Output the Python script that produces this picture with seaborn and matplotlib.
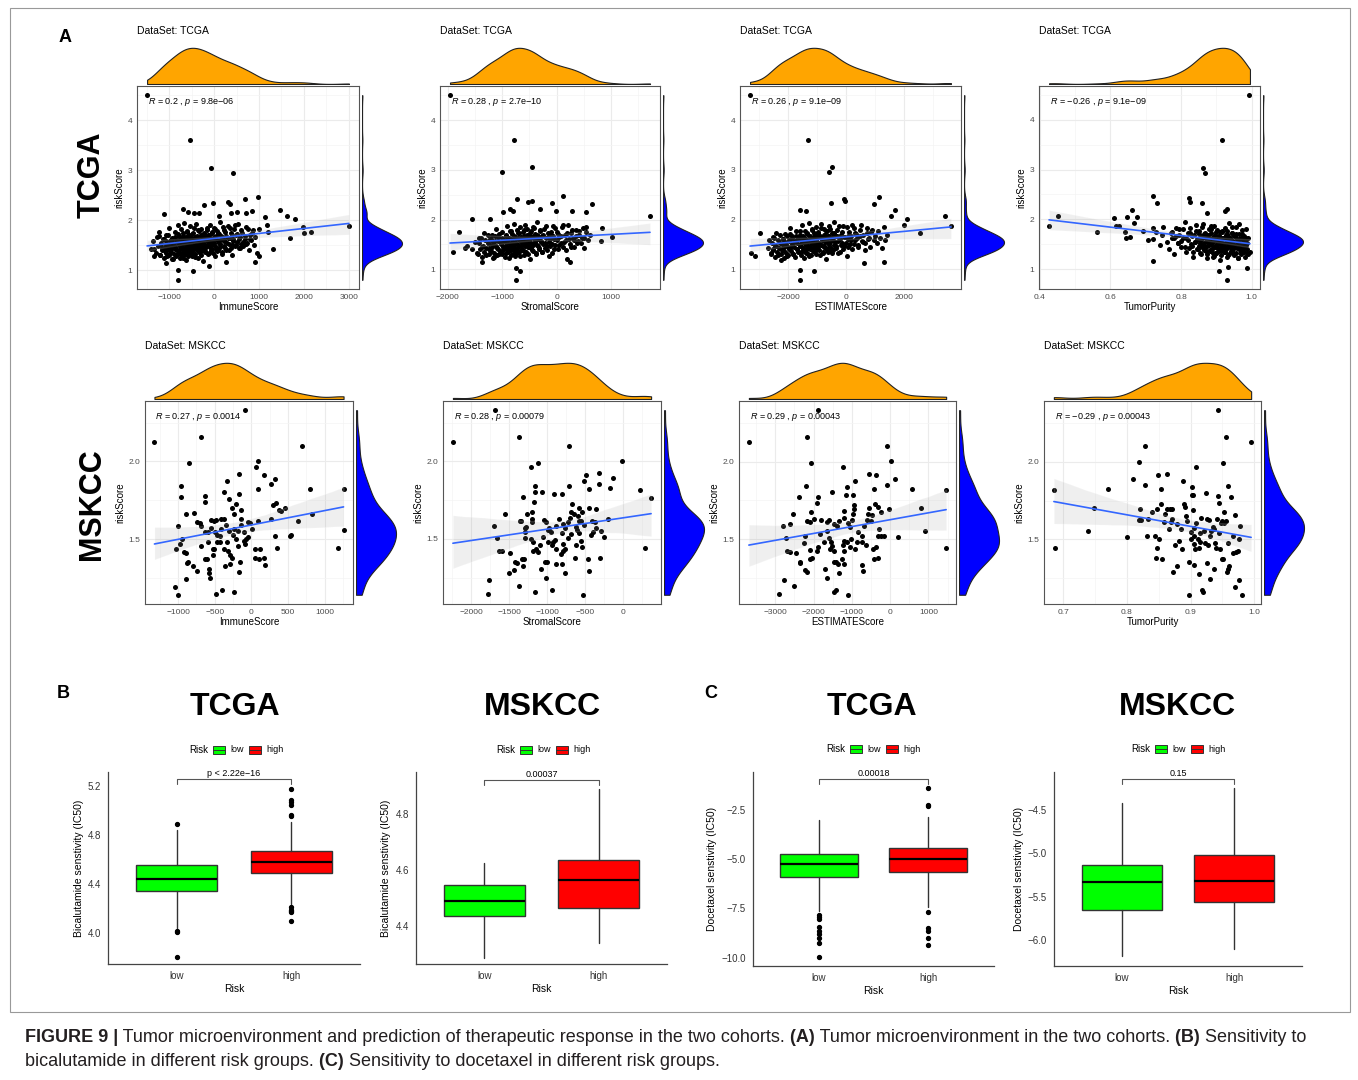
import pandas as pd
import seaborn as sns

import matplotlib
matplotlib.use('Agg')
import matplotlib.pyplot as plt
from matplotlib.collections import PolyCollection
from matplotlib.patches import Rectangle
from matplotlib.lines import Line2D
from matplotlib.ticker import FixedLocator, AutoMinorLocator

# ---------------- data ----------------
# panel A, TCGA row: (score, riskScore); sparse points first, then the cloud
tcga_immune = [
    (-1490, 4.5), (-530, 3.6), (-60, 3.05), (430, 2.95), (975, 2.47), (690, 2.42), (320, 2.37), (350, 2.32),
    (-15, 2.34), (-235, 2.31), (-700, 2.22), (-440, 2.15), (-590, 2.17), (-330, 2.15), (-1120, 2.13), (1460, 2.2),
    (1625, 2.09), (1790, 2.02), (1980, 1.87), (1990, 1.75), (2150, 1.77), (3000, 1.89), (1700, 1.65), (1310, 1.43),
    (1140, 2.06), (1180, 1.91), (1200, 1.77), (1000, 1.82), (850, 2.18), (700, 2.14), (110, 2.09), (370, 2.14),
    (520, 2.17), (-800, 0.81), (-800, 1.0), (-460, 0.99), (-110, 1.09), (260, 1.17), (920, 1.17), (1000, 1.29),
    (-1070, 1.15), (-1330, 1.29), (-1340, 1.43), (-1220, 1.69),
    (-1400, 1.42), (-1350, 1.58), (-1300, 1.35), (-1280, 1.66), (-1250, 1.48), (-1220, 1.77), (-1200, 1.30),
    (-1180, 1.55), (-1150, 1.44), (-1120, 1.62), (-1100, 1.38),
    (-1080, 1.52), (-1060, 1.71), (-1040, 1.28), (-1020, 1.46), (-1000, 1.84), (-980, 1.58), (-960, 1.36),
    (-940, 1.65), (-920, 1.22), (-900, 1.50), (-880, 1.77), (-860, 1.43), (-840, 1.60), (-820, 1.32), (-800, 1.90),
    (-790, 1.55), (-780, 1.40), (-770, 1.68), (-760, 1.25), (-750, 1.48), (-740, 1.82), (-730, 1.58), (-720, 1.35),
    (-710, 1.62), (-700, 1.45), (-690, 1.74), (-680, 1.52), (-670, 1.30), (-660, 1.95), (-650, 1.57), (-640, 1.42),
    (-630, 1.66), (-620, 1.20), (-610, 1.50), (-600, 1.78), (-590, 1.38), (-580, 1.61), (-570, 1.47), (-560, 1.70),
    (-550, 1.33), (-540, 1.56), (-530, 1.88), (-520, 1.44), (-510, 1.64), (-500, 1.28),
    (-490, 1.53), (-480, 1.72), (-470, 1.40), (-460, 1.60), (-450, 1.85), (-440, 1.47), (-430, 1.66), (-420, 1.32),
    (-410, 1.57), (-400, 1.92), (-390, 1.43), (-380, 1.69), (-370, 1.51), (-360, 1.24), (-350, 1.62), (-340, 1.78),
    (-330, 1.45), (-320, 1.58), (-310, 1.36), (-300, 1.70), (-290, 1.52), (-280, 1.83), (-270, 1.41), (-260, 1.63),
    (-250, 1.18), (-240, 1.55), (-230, 1.75), (-220, 1.48), (-210, 1.66), (-200, 1.37),
    (-190, 1.61), (-175, 1.46), (-160, 1.80), (-145, 1.53), (-130, 1.70), (-115, 1.34), (-100, 1.64), (-85, 1.90),
    (-70, 1.50), (-55, 1.74), (-40, 1.42), (-25, 1.60), (-10, 1.85), (5, 1.55), (20, 1.29), (35, 1.68), (50, 1.47),
    (65, 1.78), (80, 1.58), (95, 1.40), (110, 1.72), (125, 1.52), (140, 1.96), (155, 1.63), (170, 1.36), (185, 1.67),
    (210, 1.58), (230, 1.80), (250, 1.45), (270, 1.69), (290, 1.55), (310, 1.88), (330, 1.40), (350, 1.64),
    (370, 1.75), (390, 1.50), (410, 1.30), (430, 1.62), (450, 1.83), (470, 1.48), (490, 1.70), (510, 1.57),
    (530, 1.92), (550, 1.44), (570, 1.66), (590, 1.52),
    (620, 1.74), (650, 1.48), (680, 1.62), (710, 1.86), (740, 1.55), (770, 1.40), (800, 1.70), (830, 1.60),
    (860, 1.80), (890, 1.50), (920, 1.67), (960, 1.35),
]
tcga_immune_dense = [
    (-1200, 1.30), (-1180, 1.52), (-1160, 1.40), (-1140, 1.62), (-1120, 1.25), (-1100, 1.47), (-1080, 1.35),
    (-1060, 1.58), (-1040, 1.42), (-1020, 1.70), (-1000, 1.30), (-985, 1.50), (-970, 1.38), (-955, 1.61),
    (-940, 1.44), (-925, 1.22), (-910, 1.55), (-895, 1.33), (-880, 1.66), (-865, 1.46), (-850, 1.28), (-835, 1.57),
    (-820, 1.41), (-805, 1.72), (-790, 1.36), (-775, 1.50), (-760, 1.62), (-745, 1.31), (-730, 1.45), (-715, 1.56),
    (-700, 1.24), (-685, 1.68), (-670, 1.40), (-655, 1.52), (-640, 1.34), (-625, 1.63), (-610, 1.46), (-595, 1.77),
    (-580, 1.29), (-565, 1.55), (-550, 1.43), (-535, 1.66), (-520, 1.37), (-505, 1.50), (-490, 1.60), (-475, 1.32),
    (-460, 1.74), (-445, 1.47), (-430, 1.56), (-415, 1.27), (-400, 1.64), (-385, 1.41), (-370, 1.53), (-355, 1.80),
    (-340, 1.36), (-325, 1.59), (-310, 1.48), (-295, 1.69), (-280, 1.31), (-265, 1.57), (-250, 1.44), (-235, 1.73),
    (-220, 1.52), (-205, 1.38), (-190, 1.65), (-175, 1.49), (-160, 1.84), (-145, 1.58), (-130, 1.33), (-115, 1.70),
    (-100, 1.46), (-85, 1.61), (-70, 1.40), (-55, 1.77), (-40, 1.54), (-25, 1.35), (-10, 1.66), (5, 1.50),
    (20, 1.82), (35, 1.43), (50, 1.62), (70, 1.38), (90, 1.74), (110, 1.55), (130, 1.46), (150, 1.68), (170, 1.32),
    (190, 1.87), (210, 1.60), (230, 1.49), (250, 1.76), (275, 1.41), (300, 1.64), (325, 1.53), (350, 1.85),
    (375, 1.45), (400, 1.70), (430, 1.58), (460, 1.90), (490, 1.50), (520, 1.73), (550, 1.62), (580, 1.44),
    (610, 1.80), (640, 1.57), (680, 1.69), (720, 1.52), (760, 1.83), (800, 1.63), (850, 1.75),
]
tcga_stromal = [
    (-1960, 4.5), (-780, 3.6), (-445, 3.05), (-1000, 2.95), (125, 2.47), (650, 2.32), (1720, 2.08), (-720, 2.42),
    (-525, 2.35), (-455, 2.37), (-90, 2.33), (-860, 2.22), (-800, 2.17), (-1560, 2.02), (-1230, 2.02), (-1790, 1.75),
    (-1910, 1.34), (-1680, 1.43), (-1650, 1.46), (820, 1.57), (830, 1.84), (1020, 1.64), (-740, 0.79), (-740, 1.02),
    (-670, 0.97), (-1370, 1.15), (250, 1.15), (200, 1.21), (540, 2.15), (290, 2.17), (-10, 2.17), (-310, 2.22),
    (-980, 2.15),
    (-1550, 1.40), (-1500, 1.55), (-1460, 1.32), (-1420, 1.63), (-1380, 1.45), (-1340, 1.74), (-1300, 1.28),
    (-1270, 1.52), (-1250, 1.41),
    (-1230, 1.60), (-1210, 1.36), (-1190, 1.70), (-1170, 1.48), (-1150, 1.25), (-1130, 1.57), (-1110, 1.82),
    (-1090, 1.43), (-1070, 1.64), (-1050, 1.30), (-1030, 1.52), (-1010, 1.76), (-990, 1.39), (-970, 1.58),
    (-945, 1.47), (-935, 1.69), (-925, 1.33), (-915, 1.56), (-905, 1.88), (-895, 1.42), (-885, 1.62), (-875, 1.22),
    (-865, 1.51), (-855, 1.77), (-845, 1.38), (-835, 1.60), (-825, 1.46), (-815, 1.71), (-805, 1.30), (-795, 1.55),
    (-785, 1.92), (-775, 1.44), (-765, 1.65), (-755, 1.27), (-745, 1.53), (-735, 1.80), (-725, 1.41), (-715, 1.62),
    (-705, 1.49), (-695, 1.73), (-685, 1.35), (-675, 1.58), (-665, 1.85), (-655, 1.46),
    (-645, 1.61), (-635, 1.39), (-625, 1.75), (-615, 1.52), (-605, 1.28), (-595, 1.66), (-585, 1.90), (-575, 1.47),
    (-565, 1.63), (-555, 1.34), (-545, 1.57), (-535, 1.81), (-525, 1.44), (-515, 1.69), (-505, 1.53), (-495, 1.20),
    (-485, 1.60), (-475, 1.77), (-465, 1.42), (-455, 1.65), (-445, 1.50), (-435, 1.86), (-425, 1.37), (-415, 1.62),
    (-405, 1.55), (-395, 1.72), (-385, 1.31), (-375, 1.58), (-365, 1.95), (-355, 1.48),
    (-340, 1.66), (-320, 1.43), (-300, 1.79), (-280, 1.57), (-260, 1.35), (-240, 1.70), (-220, 1.52), (-200, 1.88),
    (-180, 1.46), (-160, 1.64), (-140, 1.27), (-120, 1.60), (-100, 1.76), (-80, 1.50), (-60, 1.68), (-40, 1.40),
    (-20, 1.83), (0, 1.58),
    (20, 1.72), (50, 1.48), (80, 1.66), (110, 1.90), (140, 1.55), (170, 1.38), (200, 1.74), (230, 1.61), (260, 1.45),
    (290, 1.80), (320, 1.59), (350, 1.68),
    (380, 1.52), (420, 1.77), (460, 1.63), (500, 1.42), (540, 1.85), (580, 1.58), (620, 1.70),
]
tcga_stromal_dense = [
    (-1450, 1.30), (-1430, 1.52), (-1410, 1.40), (-1390, 1.62), (-1370, 1.25), (-1350, 1.47), (-1330, 1.35),
    (-1310, 1.58), (-1290, 1.42), (-1270, 1.70), (-1250, 1.30), (-1235, 1.50), (-1220, 1.38), (-1205, 1.61),
    (-1190, 1.44), (-1175, 1.22), (-1160, 1.55), (-1145, 1.33), (-1130, 1.66), (-1115, 1.46), (-1100, 1.28),
    (-1085, 1.57), (-1070, 1.41), (-1055, 1.72), (-1040, 1.36), (-1025, 1.50), (-1010, 1.62), (-995, 1.31),
    (-980, 1.45), (-965, 1.56), (-950, 1.24), (-935, 1.68), (-920, 1.40), (-905, 1.52), (-890, 1.34), (-875, 1.63),
    (-860, 1.46), (-845, 1.77), (-830, 1.29), (-815, 1.55), (-800, 1.43), (-785, 1.66), (-770, 1.37), (-755, 1.50),
    (-740, 1.60), (-725, 1.32), (-710, 1.74), (-695, 1.47), (-680, 1.56), (-665, 1.27), (-650, 1.64), (-635, 1.41),
    (-620, 1.53), (-605, 1.80), (-590, 1.36), (-575, 1.59), (-560, 1.48), (-545, 1.69), (-530, 1.31), (-515, 1.57),
    (-500, 1.44), (-485, 1.73), (-470, 1.52), (-455, 1.38), (-440, 1.65), (-425, 1.49), (-410, 1.84), (-395, 1.58),
    (-380, 1.33), (-365, 1.70), (-350, 1.46), (-335, 1.61), (-320, 1.40), (-305, 1.77), (-290, 1.54), (-275, 1.35),
    (-260, 1.66), (-245, 1.50), (-230, 1.82), (-215, 1.43), (-200, 1.62), (-180, 1.38), (-160, 1.74), (-140, 1.55),
    (-120, 1.46), (-100, 1.68), (-80, 1.32), (-60, 1.87), (-40, 1.60), (-20, 1.49), (0, 1.76), (25, 1.41),
    (50, 1.64), (75, 1.53), (100, 1.85), (125, 1.45), (150, 1.70), (180, 1.58), (210, 1.90), (240, 1.50),
    (270, 1.73), (300, 1.62), (330, 1.44), (360, 1.80), (390, 1.57), (420, 1.69), (450, 1.52), (480, 1.83),
    (510, 1.63), (550, 1.75),
]
tcga_estimate = [
    (-3310, 4.5), (-1310, 3.6), (-480, 3.05), (-570, 2.95), (1140, 2.45), (970, 2.32), (-60, 2.42), (-25, 2.37),
    (-515, 2.34), (-1570, 2.2), (-1370, 2.17), (1690, 2.19), (1540, 2.07), (2090, 2.02), (2000, 1.89), (2540, 1.73),
    (3430, 2.07), (3620, 1.87), (-2970, 1.74), (-3290, 1.33), (-3140, 1.27), (-2510, 1.39), (-1570, 0.79),
    (-1570, 0.99), (-1120, 0.97), (630, 1.12), (1310, 1.15), (-2230, 1.19),
    (-2700, 1.42), (-2640, 1.58), (-2580, 1.33), (-2520, 1.65), (-2460, 1.47), (-2400, 1.74), (-2340, 1.29),
    (-2280, 1.53), (-2220, 1.40),
    (-2180, 1.61), (-2140, 1.36), (-2100, 1.72), (-2060, 1.49), (-2020, 1.26), (-1980, 1.58), (-1940, 1.84),
    (-1900, 1.44), (-1860, 1.66), (-1820, 1.31), (-1780, 1.54), (-1740, 1.78), (-1700, 1.40), (-1660, 1.60),
    (-1590, 1.48), (-1570, 1.70), (-1550, 1.34), (-1530, 1.57), (-1510, 1.89), (-1490, 1.43), (-1470, 1.63),
    (-1450, 1.23), (-1430, 1.52), (-1410, 1.78), (-1390, 1.39), (-1370, 1.61), (-1350, 1.47), (-1330, 1.72),
    (-1310, 1.31), (-1290, 1.56), (-1270, 1.93), (-1250, 1.45), (-1230, 1.66), (-1210, 1.28), (-1190, 1.54),
    (-1170, 1.81), (-1150, 1.42), (-1130, 1.63), (-1110, 1.50), (-1090, 1.74), (-1070, 1.36), (-1050, 1.59),
    (-1030, 1.86), (-1010, 1.47),
    (-990, 1.62), (-970, 1.40), (-950, 1.76), (-930, 1.53), (-910, 1.29), (-890, 1.67), (-870, 1.91), (-850, 1.48),
    (-830, 1.64), (-810, 1.35), (-790, 1.58), (-770, 1.82), (-750, 1.45), (-730, 1.70), (-710, 1.54), (-690, 1.21),
    (-670, 1.61), (-650, 1.78), (-630, 1.43), (-610, 1.66), (-590, 1.51), (-570, 1.87), (-550, 1.38), (-530, 1.63),
    (-510, 1.56), (-490, 1.73), (-470, 1.32), (-450, 1.59), (-430, 1.96), (-410, 1.49),
    (-380, 1.66), (-340, 1.43), (-300, 1.79), (-260, 1.57), (-220, 1.35), (-180, 1.70), (-140, 1.52), (-100, 1.88),
    (-60, 1.46), (-20, 1.64), (20, 1.27), (60, 1.60), (100, 1.76), (140, 1.50), (180, 1.68), (220, 1.40),
    (260, 1.83), (300, 1.58),
    (350, 1.72), (410, 1.48), (470, 1.66), (530, 1.90), (590, 1.55), (650, 1.38), (710, 1.74), (770, 1.61),
    (830, 1.45), (890, 1.80), (950, 1.59), (1000, 1.68),
    (1060, 1.52), (1120, 1.77), (1180, 1.63), (1240, 1.42), (1300, 1.85), (1350, 1.58), (1400, 1.70),
]
tcga_estimate_dense = [
    (-2600, 1.30), (-2565, 1.52), (-2530, 1.40), (-2495, 1.62), (-2460, 1.25), (-2425, 1.47), (-2390, 1.35),
    (-2355, 1.58), (-2320, 1.42), (-2285, 1.70), (-2250, 1.30), (-2225, 1.50), (-2200, 1.38), (-2175, 1.61),
    (-2150, 1.44), (-2125, 1.22), (-2100, 1.55), (-2075, 1.33), (-2050, 1.66), (-2025, 1.46), (-2000, 1.28),
    (-1975, 1.57), (-1950, 1.41), (-1925, 1.72), (-1900, 1.36), (-1875, 1.50), (-1850, 1.62), (-1825, 1.31),
    (-1800, 1.45), (-1775, 1.56), (-1750, 1.24), (-1725, 1.68), (-1700, 1.40), (-1675, 1.52), (-1650, 1.34),
    (-1625, 1.63), (-1600, 1.46), (-1575, 1.77), (-1550, 1.29), (-1525, 1.55), (-1500, 1.43), (-1475, 1.66),
    (-1450, 1.37), (-1425, 1.50), (-1400, 1.60), (-1375, 1.32), (-1350, 1.74), (-1325, 1.47), (-1300, 1.56),
    (-1275, 1.27), (-1250, 1.64), (-1225, 1.41), (-1200, 1.53), (-1175, 1.80), (-1150, 1.36), (-1125, 1.59),
    (-1100, 1.48), (-1075, 1.69), (-1050, 1.31), (-1025, 1.57), (-1000, 1.44), (-975, 1.73), (-950, 1.52),
    (-925, 1.38), (-900, 1.65), (-875, 1.49), (-850, 1.84), (-825, 1.58), (-800, 1.33), (-775, 1.70), (-750, 1.46),
    (-725, 1.61), (-700, 1.40), (-675, 1.77), (-650, 1.54), (-625, 1.35), (-600, 1.66), (-575, 1.50), (-550, 1.82),
    (-525, 1.43), (-500, 1.62), (-465, 1.38), (-430, 1.74), (-395, 1.55), (-360, 1.46), (-325, 1.68), (-290, 1.32),
    (-255, 1.87), (-220, 1.60), (-185, 1.49), (-150, 1.76), (-105, 1.41), (-60, 1.64), (-15, 1.53), (30, 1.85),
    (75, 1.45), (120, 1.70), (170, 1.58), (220, 1.90), (270, 1.50), (320, 1.73), (370, 1.62), (420, 1.44),
    (480, 1.80), (540, 1.57), (600, 1.69), (660, 1.52), (720, 1.83), (790, 1.63), (860, 1.75),
]
tcga_purity = [
    (0.993, 4.49), (0.915, 3.59), (0.861, 3.04), (0.869, 2.94), (0.426, 1.87), (0.452, 2.07), (0.562, 1.74),
    (0.611, 2.02), (0.616, 1.87), (0.625, 1.87), (0.641, 1.75), (0.648, 2.05), (0.644, 1.63), (0.655, 1.65),
    (0.660, 2.19), (0.667, 1.93), (0.676, 2.05), (0.691, 1.77), (0.705, 1.59), (0.719, 2.47), (0.721, 1.17),
    (0.733, 2.32), (0.721, 1.83), (0.930, 0.79), (0.906, 0.97), (0.934, 1.05), (0.986, 1.03), (0.995, 1.35),
    (0.822, 2.42), (0.826, 2.35), (0.859, 2.33), (0.873, 2.13), (0.930, 2.21), (0.925, 2.17),
    (0.72, 1.60), (0.73, 1.75), (0.74, 1.48), (0.745, 1.68), (0.75, 1.85), (0.76, 1.55), (0.765, 1.40), (0.77, 1.72),
    (0.775, 1.62), (0.78, 1.30),
    (0.785, 1.66), (0.79, 1.52), (0.795, 1.80), (0.80, 1.44), (0.805, 1.63), (0.81, 1.95), (0.815, 1.35),
    (0.82, 1.58), (0.825, 1.73), (0.83, 1.47), (0.833, 1.25), (0.836, 1.68), (0.84, 1.54), (0.843, 1.88),
    (0.845, 1.61), (0.848, 1.40), (0.851, 1.76), (0.854, 1.52), (0.857, 1.30), (0.86, 1.66), (0.863, 1.90),
    (0.866, 1.46), (0.869, 1.62), (0.872, 1.22), (0.875, 1.55), (0.878, 1.80), (0.852, 1.58), (0.858, 1.44),
    (0.864, 1.70), (0.871, 1.36), (0.876, 1.64), (0.879, 1.50),
    (0.881, 1.57), (0.883, 1.38), (0.885, 1.72), (0.887, 1.48), (0.889, 1.25), (0.891, 1.63), (0.893, 1.86),
    (0.895, 1.44), (0.897, 1.60), (0.899, 1.32), (0.901, 1.54), (0.903, 1.78), (0.905, 1.41), (0.907, 1.66),
    (0.909, 1.51), (0.911, 1.18), (0.913, 1.58), (0.915, 1.75), (0.917, 1.39), (0.919, 1.62), (0.921, 1.47),
    (0.923, 1.83), (0.925, 1.35), (0.927, 1.60), (0.929, 1.53), (0.931, 1.70), (0.933, 1.28), (0.935, 1.56),
    (0.937, 1.92), (0.939, 1.45),
    (0.941, 1.59), (0.943, 1.37), (0.945, 1.73), (0.947, 1.50), (0.949, 1.30), (0.951, 1.66), (0.953, 1.46),
    (0.955, 1.84), (0.957, 1.42), (0.959, 1.60), (0.961, 1.22), (0.963, 1.55), (0.965, 1.70), (0.967, 1.45),
    (0.969, 1.62), (0.971, 1.35), (0.973, 1.78), (0.975, 1.52),
    (0.977, 1.66), (0.979, 1.42), (0.981, 1.58), (0.983, 1.80), (0.985, 1.48), (0.987, 1.32), (0.989, 1.62),
]
tcga_purity_dense = [
    (0.990, 1.30), (0.988, 1.52), (0.986, 1.40), (0.984, 1.62), (0.982, 1.25), (0.980, 1.47), (0.978, 1.35),
    (0.976, 1.58), (0.974, 1.42), (0.972, 1.70), (0.970, 1.30), (0.968, 1.50), (0.966, 1.38), (0.964, 1.61),
    (0.962, 1.44), (0.960, 1.22), (0.958, 1.55), (0.956, 1.33), (0.954, 1.66), (0.952, 1.46), (0.950, 1.28),
    (0.948, 1.57), (0.946, 1.41), (0.944, 1.72), (0.942, 1.36), (0.940, 1.50), (0.938, 1.62), (0.936, 1.31),
    (0.934, 1.45), (0.932, 1.56), (0.930, 1.24), (0.928, 1.68), (0.926, 1.40), (0.924, 1.52), (0.922, 1.34),
    (0.920, 1.63), (0.918, 1.46), (0.916, 1.77), (0.914, 1.29), (0.912, 1.55), (0.910, 1.43), (0.908, 1.66),
    (0.906, 1.37), (0.904, 1.50), (0.902, 1.60), (0.900, 1.32), (0.898, 1.74), (0.896, 1.47), (0.894, 1.56),
    (0.892, 1.27), (0.890, 1.64), (0.888, 1.41), (0.886, 1.53), (0.884, 1.80), (0.882, 1.36), (0.880, 1.59),
    (0.878, 1.48), (0.876, 1.69), (0.874, 1.31), (0.872, 1.57), (0.870, 1.44), (0.868, 1.73), (0.866, 1.52),
    (0.864, 1.38), (0.862, 1.65), (0.860, 1.49), (0.858, 1.84), (0.856, 1.58), (0.854, 1.33), (0.852, 1.70),
    (0.850, 1.46), (0.847, 1.61), (0.844, 1.40), (0.841, 1.77), (0.838, 1.54), (0.835, 1.35), (0.832, 1.66),
    (0.829, 1.50), (0.826, 1.82), (0.823, 1.43), (0.920, 1.62), (0.915, 1.38), (0.910, 1.74), (0.905, 1.55),
    (0.900, 1.46), (0.895, 1.68), (0.890, 1.32), (0.885, 1.87), (0.880, 1.60), (0.875, 1.49), (0.930, 1.76),
    (0.925, 1.41), (0.935, 1.64), (0.940, 1.53), (0.945, 1.85), (0.950, 1.45), (0.955, 1.70), (0.960, 1.58),
    (0.965, 1.90), (0.970, 1.50), (0.820, 1.73), (0.815, 1.62), (0.810, 1.44), (0.805, 1.80), (0.800, 1.57),
    (0.795, 1.69), (0.790, 1.52), (0.785, 1.83), (0.780, 1.63), (0.775, 1.75),
]

# panel A, MSKCC row
mskcc_immune = [
    (-1322, 2.127), (-83, 2.33), (-691, 2.16), (-848, 1.99), (687, 2.10), (87, 2.00), (61, 1.966), (-174, 1.92),
    (174, 1.91), (317, 1.89), (265, 1.854), (-330, 1.876), (-378, 1.805), (-961, 1.843), (-961, 1.773), (-639, 1.775),
    (-639, 1.736), (-170, 1.79), (87, 1.82), (796, 1.826), (1257, 1.82), (-300, 1.76), (-270, 1.70), (-213, 1.725),
    (-139, 1.69), (-239, 1.66), (-143, 1.627), (-52, 1.61), (-17, 1.607), (87, 1.62), (261, 1.628), (300, 1.72),
    (339, 1.73), (383, 1.69), (465, 1.70), (404, 1.68), (822, 1.66), (639, 1.62), (-891, 1.66), (-783, 1.67),
    (-748, 1.61), (-700, 1.607), (-691, 1.585), (-552, 1.625), (-509, 1.62), (-483, 1.625), (-417, 1.633),
    (-370, 1.627), (-348, 1.594), (-1004, 1.586), (-630, 1.547), (-596, 1.543), (-500, 1.543), (-413, 1.564),
    (-300, 1.554), (-239, 1.564), (-187, 1.55), (-426, 1.52), (-465, 1.479), (-504, 1.436), (-530, 1.40),
    (-952, 1.504), (-974, 1.472), (-1026, 1.436), (-917, 1.418), (-891, 1.412), (-865, 1.35), (-878, 1.345),
    (-796, 1.328), (-735, 1.298), (-635, 1.371), (-609, 1.371), (-583, 1.306), (-574, 1.285), (-570, 1.247),
    (-357, 1.328), (-291, 1.337), (-270, 1.376), (-291, 1.40), (-183, 1.457), (-161, 1.35), (-170, 1.29),
    (-104, 1.487), (-87, 1.468), (-74, 1.504), (-48, 1.515), (43, 1.436), (117, 1.436), (52, 1.376), (109, 1.371),
    (178, 1.376), (191, 1.335), (317, 1.52), (343, 1.446), (522, 1.52), (535, 1.526), (1187, 1.44), (1257, 1.556),
    (-891, 1.243), (-1035, 1.195), (-1000, 1.142), (-483, 1.144), (-404, 1.172), (-235, 1.161), (-465, 1.53),
    (-422, 1.479), (-335, 1.479), (-248, 1.53), (-378, 1.436), (-313, 1.425), (-552, 1.575), (-139, 1.59),
    (-204, 1.50), (-96, 1.543), (-596, 1.479), (-683, 1.457), (-530, 1.436), (13, 1.564),
]
mskcc_stromal = [
    (-2242, 2.127), (-1692, 2.33), (-1376, 2.159), (-717, 2.10), (-1121, 1.99), (-1213, 1.966), (-13, 2.00),
    (-488, 1.912), (-321, 1.923), (-136, 1.89), (-180, 1.826), (-523, 1.876), (-321, 1.854), (-453, 1.82),
    (220, 1.818), (365, 1.764), (-1165, 1.84), (-1165, 1.80), (-1173, 1.736), (-1068, 1.80), (-914, 1.79),
    (-805, 1.79), (-1319, 1.77), (-712, 1.84), (-1200, 1.676), (-1266, 1.66), (-1556, 1.66), (-1697, 1.586),
    (-1662, 1.506), (-1640, 1.42), (-1591, 1.423), (-1763, 1.238), (-1785, 1.144), (-1376, 1.197), (-1165, 1.161),
    (-945, 1.174), (-536, 1.14), (-1508, 1.283), (-1437, 1.298), (-1429, 1.354), (-1398, 1.345), (-1328, 1.371),
    (-1301, 1.371), (-1323, 1.328), (-1495, 1.41), (-1363, 1.618), (-1341, 1.618), (-1297, 1.569), (-1280, 1.58),
    (-1288, 1.547), (-1297, 1.506), (-1205, 1.629), (-1200, 1.607), (-1209, 1.50), (-1182, 1.479), (-1191, 1.425),
    (-1143, 1.436), (-1121, 1.418), (-1090, 1.464), (-1059, 1.51), (-1046, 1.622), (-1015, 1.607), (-989, 1.56),
    (-980, 1.569), (-958, 1.543), (-989, 1.479), (-945, 1.461), (-927, 1.479), (-905, 1.494), (-892, 1.436),
    (-1033, 1.35), (-998, 1.35), (-1086, 1.307), (-1015, 1.247), (-892, 1.339), (-813, 1.339), (-774, 1.279),
    (-826, 1.403), (-791, 1.425), (-761, 1.436), (-796, 1.468), (-805, 1.539), (-892, 1.586), (-840, 1.629),
    (-800, 1.597), (-774, 1.571), (-734, 1.612), (-703, 1.633), (-673, 1.725), (-695, 1.672), (-651, 1.66),
    (-598, 1.65), (-580, 1.70), (-541, 1.676), (-585, 1.618), (-558, 1.618), (-629, 1.575), (-615, 1.558),
    (-585, 1.539), (-686, 1.532), (-730, 1.504), (-629, 1.461), (-563, 1.489), (-549, 1.446), (-642, 1.38),
    (-453, 1.697), (-365, 1.693), (-374, 1.612), (-400, 1.547), (-418, 1.618), (-365, 1.569), (-299, 1.554),
    (-259, 1.51), (-202, 1.629), (-462, 1.371), (-448, 1.292), (-312, 1.375), (290, 1.442), (-426, 1.526),
    (-519, 1.59),
]
mskcc_estimate = [
    (-3687, 2.127), (-1870, 2.333), (-2174, 2.159), (-87, 2.10), (-2061, 1.991), (-1235, 1.966), (26, 2.002),
    (-557, 1.921), (-365, 1.912), (130, 1.888), (-922, 1.876), (-87, 1.852), (-426, 1.822), (574, 1.826),
    (1461, 1.818), (-1130, 1.839), (-1165, 1.788), (-1522, 1.805), (-1887, 1.775), (-1896, 1.736), (-2383, 1.773),
    (-2209, 1.843), (-957, 1.785), (-948, 1.719), (-939, 1.697), (-1200, 1.682), (-539, 1.70), (-391, 1.725),
    (-330, 1.71), (-243, 1.678), (-17, 1.693), (800, 1.704), (913, 1.554), (217, 1.515), (1461, 1.442),
    (-157, 1.52), (-313, 1.52), (-583, 1.66), (-461, 1.654), (-600, 1.624), (-496, 1.618), (-670, 1.586),
    (-843, 1.543), (-1000, 1.622), (-1087, 1.607), (-1043, 1.575), (-957, 1.66), (-1217, 1.635), (-1322, 1.614),
    (-1374, 1.586), (-1461, 1.597), (-1583, 1.622), (-1635, 1.612), (-1800, 1.622), (-2000, 1.629), (-2087, 1.612),
    (-2174, 1.618), (-2070, 1.672), (-2548, 1.66), (-2800, 1.586), (-2713, 1.506), (-2696, 1.42), (-2626, 1.418),
    (-2452, 1.41), (-2365, 1.35), (-2348, 1.343), (-2235, 1.30), (-2174, 1.285), (-2261, 1.474), (-2087, 1.431),
    (-2087, 1.371), (-2044, 1.375), (-1896, 1.425), (-1870, 1.446), (-1826, 1.532), (-1739, 1.479), (-1696, 1.307),
    (-1652, 1.247), (-1591, 1.51), (-1539, 1.483), (-1565, 1.436), (-1478, 1.42), (-1461, 1.35), (-1409, 1.35),
    (-1522, 1.457), (-1322, 1.279), (-1365, 1.339), (-1261, 1.371), (-1217, 1.425), (-1200, 1.339), (-1235, 1.461),
    (-1217, 1.489), (-1130, 1.479), (-1043, 1.446), (-1017, 1.50), (-930, 1.436), (-870, 1.479), (-739, 1.52),
    (-739, 1.479), (-626, 1.461), (-435, 1.436), (-365, 1.446), (-417, 1.371), (-322, 1.375), (-235, 1.52),
    (-304, 1.564), (-739, 1.333), (-696, 1.292), (-2522, 1.195), (-2765, 1.238), (-2896, 1.142), (-1461, 1.161),
    (-1409, 1.174), (-1096, 1.14), (-2609, 1.597), (-2217, 1.52), (-1652, 1.554),
]
mskcc_purity = [
    (0.6855, 1.818), (0.6866, 1.442), (0.739, 1.554), (0.749, 1.704), (0.770, 1.826), (0.801, 1.513), (0.809, 1.888),
    (0.819, 2.0), (0.828, 2.10), (0.829, 1.852), (0.821, 1.693), (0.819, 1.624), (0.822, 1.622), (0.831, 1.52),
    (0.833, 1.629), (0.840, 1.676), (0.844, 1.52), (0.848, 1.693), (0.849, 1.914), (0.850, 1.504), (0.848, 1.446),
    (0.855, 1.375), (0.846, 1.382), (0.854, 1.822), (0.854, 1.725), (0.858, 1.612), (0.863, 1.921), (0.860, 1.665),
    (0.863, 1.693), (0.867, 1.697), (0.866, 1.564), (0.869, 1.614), (0.871, 1.693), (0.871, 1.633), (0.873, 1.292),
    (0.875, 1.464), (0.878, 1.328), (0.879, 1.597), (0.882, 1.489), (0.888, 1.876), (0.885, 1.564), (0.887, 1.436),
    (0.890, 1.725), (0.891, 1.708), (0.893, 1.65), (0.895, 1.618), (0.898, 1.142), (0.898, 1.356), (0.900, 1.547),
    (0.900, 1.50), (0.902, 1.839), (0.903, 1.785), (0.904, 1.788), (0.904, 1.687), (0.905, 1.575), (0.906, 1.52),
    (0.905, 1.472), (0.905, 1.333), (0.907, 1.436), (0.908, 1.966), (0.909, 1.607), (0.912, 1.50), (0.913, 1.442),
    (0.913, 1.279), (0.915, 1.539), (0.915, 1.485), (0.917, 1.639), (0.918, 1.172), (0.920, 1.161), (0.921, 1.554),
    (0.922, 1.479), (0.924, 1.80), (0.925, 1.633), (0.926, 1.35), (0.928, 1.461), (0.929, 1.624), (0.931, 1.247),
    (0.931, 1.52), (0.932, 1.554), (0.935, 1.58), (0.936, 1.307), (0.937, 1.564), (0.939, 1.479), (0.940, 1.446),
    (0.942, 1.633), (0.943, 2.333), (0.943, 1.779), (0.944, 1.736), (0.945, 1.543), (0.946, 1.436), (0.947, 1.607),
    (0.949, 1.618), (0.950, 1.371), (0.951, 1.991), (0.951, 1.371), (0.952, 1.676), (0.953, 1.607), (0.955, 2.159),
    (0.956, 1.618), (0.958, 1.843), (0.958, 1.307), (0.957, 1.29), (0.959, 1.479), (0.960, 1.328), (0.964, 1.773),
    (0.966, 1.52), (0.967, 1.41), (0.969, 1.195), (0.970, 1.66), (0.972, 1.418), (0.975, 1.425), (0.976, 1.504),
    (0.976, 1.238), (0.978, 1.586), (0.980, 1.142), (0.995, 2.127),
]

score_names = ['ImmuneScore', 'StromalScore', 'ESTIMATEScore', 'TumorPurity']
tcga_xticks = [[-1000, 0, 1000, 2000, 3000], [-2000, -1000, 0, 1000], [-2000, 0, 2000], [0.4, 0.6, 0.8, 1.0]]
mskcc_xticks = [[-1000, -500, 0, 500, 1000], [-2000, -1500, -1000, -500, 0], [-3000, -2000, -1000, 0, 1000],
                [0.7, 0.8, 0.9, 1.0]]
tcga_yticks = [1, 2, 3, 4]
mskcc_yticks = [1.5, 2.0]
tcga_r = ['0.2', '0.28', '0.26', '\u22120.26']
tcga_p = ['9.8e\u221206', '2.7e\u221210', '9.1e\u221209', '9.1e\u221209']
mskcc_r = ['0.27', '0.28', '0.29', '\u22120.29']
mskcc_p = ['0.0014', '0.00079', '0.00043', '0.00043']

# panels B/C: box summaries [lower whisker, q1, median, q3, upper whisker] and outliers
bica_tcga_low = [4.04, 4.343, 4.44, 4.555, 4.835]
bica_tcga_low_out = [4.89, 4.02, 4.01, 3.81]
bica_tcga_high = [4.24, 4.49, 4.58, 4.67, 4.90]
bica_tcga_high_out = [5.17, 5.08, 5.07, 5.04, 4.96, 4.95, 4.21, 4.19, 4.18, 4.17, 4.10]
bica_mskcc_low = [4.286, 4.436, 4.49, 4.545, 4.626]
bica_mskcc_high = [4.338, 4.464, 4.564, 4.636, 4.889]
doce_tcga_low = [-7.65, -5.92, -5.24, -4.73, -3.0]
doce_tcga_low_out = [-7.83, -7.95, -8.05, -8.42, -8.63, -8.79, -9.01, -9.27, -9.95]
doce_tcga_high = [-7.4, -5.65, -4.99, -4.41, -2.84]
doce_tcga_high_out = [-1.37, -2.26, -2.30, -7.66, -8.5, -8.63, -8.98, -9.35]
doce_mskcc_low = [-6.19, -5.65, -5.33, -5.13, -4.42]
doce_mskcc_high = [-6.10, -5.56, -5.32, -5.02, -4.25]
p_values = ['p < 2.22e\u221216', '0.00037', '0.00018', '0.15']
bracket_y = [5.25, 4.92, -0.94, -4.14]
risk_colors = ['#00FF00', '#FF0000']

# ---------------- style ----------------
sns.set_style('white')
plt.rcParams['font.family'] = ['Liberation Sans', 'DejaVu Sans']
plt.rcParams['text.color'] = 'black'
plt.rcParams['axes.labelcolor'] = 'black'
plt.rcParams['mathtext.fontset'] = 'custom'
plt.rcParams['mathtext.rm'] = 'Liberation Sans'
plt.rcParams['mathtext.it'] = 'Liberation Sans:italic'

W, H = 1358, 1080
fig = plt.figure(figsize=(W / 100, H / 100), dpi=100)


def rect(l, t, w, h):
    return [l / W, 1 - (t + h) / H, w / W, h / H]


def corr_panel(pts, l, t, w, h, xlabel, xticks, yticks, dataset, r, p):
    df = pd.DataFrame(pts, columns=['x', 'y'])
    ax = fig.add_axes(rect(l, t, w, h))
    axt = fig.add_axes(rect(l, t - 40, w, 38), sharex=ax)
    axr = fig.add_axes(rect(l + w + 3, t, 42, h), sharey=ax)

    sns.scatterplot(data=df, x='x', y='y', ax=ax, color='black', s=13, linewidth=0, zorder=3)
    sns.regplot(data=df, x='x', y='y', ax=ax, scatter=False, color='#3366FF',
                line_kws={'lw': 1.2, 'zorder': 5}, seed=1)
    for c in ax.collections:
        if isinstance(c, PolyCollection):
            c.set_facecolor((0.6, 0.6, 0.6, 0.4))
            c.set_zorder(4)

    sns.kdeplot(data=df, x='x', ax=axt, fill=True, color='#FFA500', alpha=1, cut=0, bw_adjust=0.85,
                edgecolor='#222222', linewidth=0.8)
    sns.kdeplot(data=df, y='y', ax=axr, fill=True, color='#0000FF', alpha=1, cut=0, bw_adjust=0.85,
                edgecolor='#222222', linewidth=0.8)
    axt.axis('off')
    axr.axis('off')

    ax.xaxis.set_major_locator(FixedLocator(xticks))
    ax.yaxis.set_major_locator(FixedLocator(yticks))
    ax.xaxis.set_minor_locator(AutoMinorLocator(2))
    ax.yaxis.set_minor_locator(AutoMinorLocator(2))
    ax.grid(which='major', color='#EBEBEB', lw=0.8)
    ax.grid(which='minor', color='#F4F4F4', lw=0.5)
    ax.set_axisbelow(True)
    ax.tick_params(which='major', labelsize=6, labelcolor='#4D4D4D', length=2, color='#333333', pad=1.5)
    ax.tick_params(which='minor', length=0)
    for s in ax.spines.values():
        s.set_color('#555555')
        s.set_linewidth(0.8)
    ax.set_xlabel(xlabel, fontsize=7, labelpad=1)
    ax.set_ylabel('riskScore', fontsize=7, labelpad=2)
    ax.text(0.05, 0.92, r'$\it{R}$ = ' + r + r' , $\it{p}$ = ' + p, transform=ax.transAxes,
            fontsize=6.5, va='center', ha='left', zorder=6)
    fig.text(l / W, 1 - (t - 55) / H, 'DataSet: ' + dataset, fontsize=7.5, va='center', ha='left')


tcga_data = [tcga_immune + tcga_immune_dense, tcga_stromal + tcga_stromal_dense,
             tcga_estimate + tcga_estimate_dense, tcga_purity + tcga_purity_dense]
mskcc_data = [mskcc_immune, mskcc_stromal, mskcc_estimate, mskcc_purity]
tcga_left = [137, 440, 740, 1039]
tcga_width = [222, 220, 221, 221]
mskcc_left = [145, 443, 739, 1044]
mskcc_width = [208, 218, 217, 217]

for i in range(4):
    corr_panel(tcga_data[i], tcga_left[i], 86, tcga_width[i], 203, score_names[i], tcga_xticks[i],
               tcga_yticks, 'TCGA', tcga_r[i], tcga_p[i])
    corr_panel(mskcc_data[i], mskcc_left[i], 401, mskcc_width[i], 203, score_names[i], mskcc_xticks[i],
               mskcc_yticks, 'MSKCC', mskcc_r[i], mskcc_p[i])


def box_panel(l, t, w, h, cx, low, high, low_out, high_out, ylabel, yticks, ylim, by, ptext, title, legend_y):
    ax = fig.add_axes(rect(l, t, w, h))
    stats = []
    for lab, s, out in [('low', low, low_out), ('high', high, high_out)]:
        stats.append(dict(label=lab, whislo=s[0], q1=s[1], med=s[2], q3=s[3], whishi=s[4], fliers=out))
    bp = ax.bxp(stats, positions=[0, 1], widths=0.71, patch_artist=True, showcaps=False,
                boxprops=dict(edgecolor='#333333', lw=1),
                medianprops=dict(color='black', lw=1.6),
                whiskerprops=dict(color='#333333', lw=1),
                flierprops=dict(marker='o', markerfacecolor='black', markeredgecolor='black', markersize=2.8))
    for patch, c in zip(bp['boxes'], risk_colors):
        patch.set_facecolor(c)
    tick = (ylim[1] - ylim[0]) * 0.025
    ax.plot([0, 0, 1, 1], [by - tick, by, by, by - tick], color='#555555', lw=0.8)
    ax.text(0.5, by + tick * 0.2, ptext, ha='center', va='bottom', fontsize=6.5)
    ax.set_xlim(-0.6, 1.6)
    ax.set_ylim(ylim)
    ax.yaxis.set_major_locator(FixedLocator(yticks))
    ax.set_xticks([0, 1], ['low', 'high'])
    for s in ['top', 'right']:
        ax.spines[s].set_visible(False)
    for s in ['left', 'bottom']:
        ax.spines[s].set_color('#444444')
        ax.spines[s].set_linewidth(0.9)
    ax.tick_params(labelsize=7, labelcolor='#333333', length=3, color='#444444', width=0.8, pad=2)
    ax.set_xlabel('Risk', fontsize=7.5, labelpad=2)
    ax.set_ylabel(ylabel, fontsize=7.5, labelpad=3)

    fig.text(cx / W, 1 - 707 / H, title, fontsize=23, fontweight='bold', ha='center', va='center')
    yy = 1 - legend_y / H
    fig.text((cx - 27) / W, yy, 'Risk', fontsize=7, ha='right', va='center')
    for dx, c, lab in [(-22, risk_colors[0], 'low'), (14, risk_colors[1], 'high')]:
        fig.patches.append(Rectangle(((cx + dx) / W, 1 - (legend_y + 4) / H), 12 / W, 8 / H,
                                     transform=fig.transFigure, facecolor=c, edgecolor='#333333', lw=0.7))
        fig.lines.append(Line2D([(cx + dx) / W, (cx + dx + 12) / W], [yy, yy], transform=fig.transFigure,
                                color='#333333', lw=0.7))
        fig.text((cx + dx + 17) / W, yy, lab, fontsize=6.5, ha='left', va='center')


box_panel(108, 772, 252, 192, 235, bica_tcga_low, bica_tcga_high, bica_tcga_low_out, bica_tcga_high_out,
          'Bicalutamide senstivity (IC50)', [4.0, 4.4, 4.8, 5.2], (3.75, 5.31), bracket_y[0], p_values[0],
          'TCGA', 750)
box_panel(416, 772, 251, 192, 542, bica_mskcc_low, bica_mskcc_high, [], [],
          'Bicalutamide senstivity (IC50)', [4.4, 4.6, 4.8], (4.264, 4.95), bracket_y[1], p_values[1],
          'MSKCC', 750)
box_panel(753, 772, 241, 194, 872, doce_tcga_low, doce_tcga_high, doce_tcga_low_out, doce_tcga_high_out,
          'Docetaxel senstivity (IC50)', [-10.0, -7.5, -5.0, -2.5], (-10.42, -0.57), bracket_y[2], p_values[2],
          'TCGA', 749)
box_panel(1054, 772, 248, 194, 1177, doce_mskcc_low, doce_mskcc_high, [], [],
          'Docetaxel senstivity (IC50)', [-6.0, -5.5, -5.0, -4.5], (-6.30, -4.06), bracket_y[3], p_values[3],
          'MSKCC', 749)

# row labels and panel letters
fig.text(92 / W, 1 - 175 / H, 'TCGA', fontsize=22, fontweight='bold', rotation=90, ha='center', va='center')
fig.text(92 / W, 1 - 504 / H, 'MSKCC', fontsize=22, fontweight='bold', rotation=90, ha='center', va='center')
fig.text(65 / W, 1 - 38 / H, 'A', fontsize=13, fontweight='bold', ha='center', va='center')
fig.text(63 / W, 1 - 693 / H, 'B', fontsize=13, fontweight='bold', ha='center', va='center')
fig.text(711 / W, 1 - 693 / H, 'C', fontsize=13, fontweight='bold', ha='center', va='center')

# frame around the figure
fig.patches.append(Rectangle((10 / W, 1 - 1012 / H), 1340 / W, 1004 / H, transform=fig.transFigure,
                             fill=False, edgecolor='#999999', lw=0.8))

# caption
renderer = fig.canvas.get_renderer()


def caption_line(x, y, parts, size=13.0):
    for txt, bold in parts:
        t = fig.text(x / W, 1 - y / H, txt, fontsize=size, fontweight='bold' if bold else 'normal',
                     ha='left', va='center', color='#231F20')
        x += t.get_window_extent(renderer=renderer).width


caption_line(25, 1037, [('FIGURE 9 |', True),
                        (' Tumor microenvironment and prediction of therapeutic response in the two cohorts.', False),
                        (' (A)', True), (' Tumor microenvironment in the two cohorts.', False),
                        (' (B)', True), (' Sensitivity to', False)])
caption_line(25, 1062, [('bicalutamide in different risk groups.', False), (' (C)', True),
                        (' Sensitivity to docetaxel in different risk groups.', False)])

plt.savefig('out.png', dpi=100)
plt.close()
